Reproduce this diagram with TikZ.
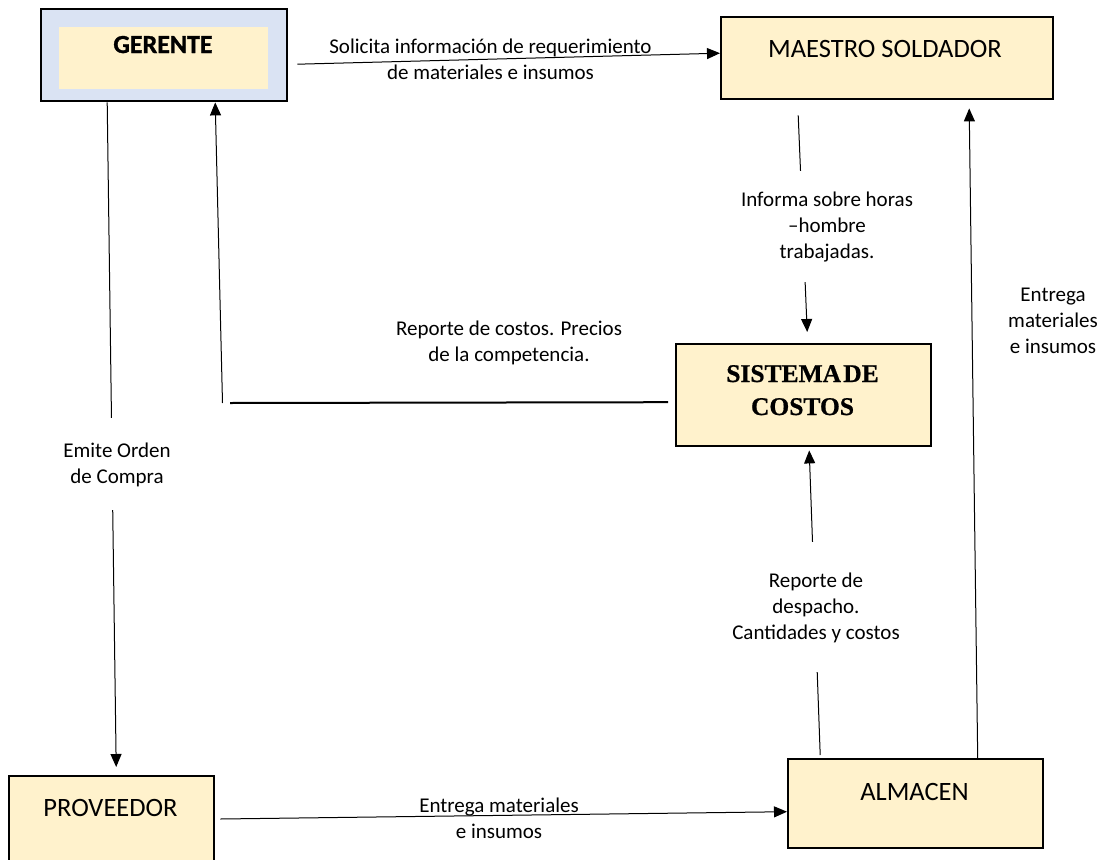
\documentclass[tikz,border=0pt]{standalone}
\usepackage{fontspec}
\setmainfont{Carlito}
\newfontfamily\serifb[FakeBold=0.8,WordSpace=0.35]{Liberation Serif Bold}
\newfontfamily\gerb[FakeBold=1.2]{Carlito Bold}
\usetikzlibrary{arrows.meta,calc}
\definecolor{boxfill}{HTML}{FFF2CC}
\definecolor{gerfill}{HTML}{DAE3F3}
\tikzset{
 box/.style={draw=black, line width=2.4pt, fill=boxfill, inner sep=0pt, anchor=north west},
 boxtxt/.style={font=\fontsize{26.5}{30}\selectfont, anchor=base, inner sep=0pt},
 lbl/.style={font=\fontsize{21}{26}\selectfont, align=center, anchor=base, inner sep=0pt},
 lblw/.style={lbl, fill=white, inner xsep=6pt},
 arr/.style={line width=1pt, -{Triangle[length=13pt,width=11pt]}},
}
\begin{document}
\begin{tikzpicture}[x=1pt,y=-1pt]
\useasboundingbox (0,0) rectangle (1105,859);
\fill[white] (0,0) rectangle (1105,859);
% boxes
\node[box, fill=gerfill, minimum width=246pt, minimum height=92pt] (ger) at (40,8) {};
\node[fill=boxfill, inner sep=0pt, anchor=north west, minimum width=209pt, minimum height=62pt] (gerin) at (59,27) {};
\node[anchor=base, inner sep=0pt, font=\gerb\fontsize{26}{30}\selectfont] (gert) at (163,53) {GERENTE};
\node[box, minimum width=332pt, minimum height=82pt] (mae) at (720,16) {};
\node[boxtxt] (maet) at (885,58) {MAESTRO SOLDADOR};
\node[box, minimum width=255pt, minimum height=102pt] (sis) at (675,343) {};
\node[anchor=base, align=center, inner sep=0pt, font=\serifb\fontsize{25.5}{33}\selectfont] (sist) at (802.5,415) {SISTEMA DE\\COSTOS};
\node[box, minimum width=205pt, minimum height=100pt] (pro) at (8,775) {};
\node[boxtxt] (prot) at (110.5,816) {PROVEEDOR};
\node[box, minimum width=255pt, minimum height=89pt] (alm) at (787,758) {};
\node[boxtxt] (almt) at (914.5,800) {ALMACEN};
% connectors
\draw[arr] ($(ger.east)+(9,9)$) -- ($(mae.west)+(0,-5)$);
\draw[arr] ($(mae.south)+(-89,15)$) -- ($(sis.north)+(3.5,-11)$);
\draw[arr] ($(alm.north)+(-95.5,-3)$) -- ($(sis.south)+(5.5,3)$);
\draw[arr] ($(alm.north)+(62,0)$) -- ($(mae.south)+(82,8)$);
\coordinate (hc) at (230,403);
\coordinate (vc) at (222.5,403);
\draw[line width=2pt] ($(sis.west)+(-7,7)$) -- (hc);
\draw[arr] (vc) -- ($(ger.south)+(51,0)$);
\draw[arr] ($(ger.south)+(-57,0)$) -- ($(pro.north)+(4.5,-8)$);
\draw[arr] ($(pro.north east)+(5,44)$) -- ($(alm.west)+(0,8)$);
% labels
\node[lbl] (l1) at (490.5,79) {Solicita información de requerimiento\\de materiales e insumos};
\node[lblw, inner ysep=20pt] (l2) at (827,258) {Informa sobre horas\\–hombre\\trabajadas.};
\node[lbl] (l3) at (1053,353) {Entrega\\materiales\\e insumos};
\node[lbl] (l4) at (509,361) {Reporte de costos. Precios\\de la competencia.};
\node[lblw, inner ysep=24pt] (l5) at (117,483) {Emite Orden\\de Compra};
\node[lblw, inner ysep=30pt] (l6) at (816,639) {Reporte de\\despacho.\\Cantidades y costos};
\node[lbl] (l7) at (499,838.5) {Entrega materiales\\e insumos};
\end{tikzpicture}
\end{document}
